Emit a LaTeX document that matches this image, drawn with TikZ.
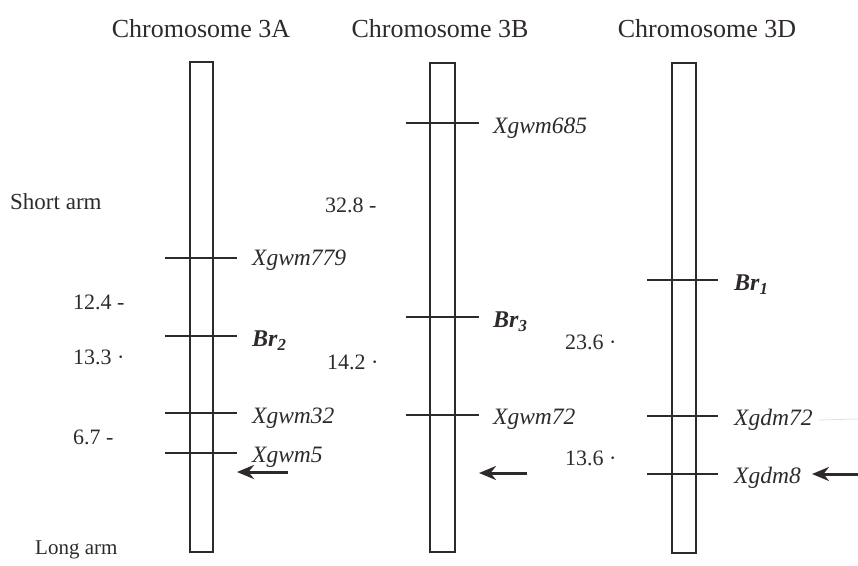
\documentclass[tikz,border=0pt]{standalone}
\usepackage{fontspec}
\setmainfont{Liberation Serif}
\usetikzlibrary{arrows.meta}
\definecolor{ink}{HTML}{2E2A2B}
\tikzset{
  chrom/.style={draw=ink, line width=1.4pt, rectangle, inner sep=0pt},
  tickline/.style={draw=ink, line width=1.4pt},
  title/.style={text=ink, font=\fontsize{26}{28}\selectfont, inner sep=0pt},
  side/.style={text=ink, font=\fontsize{23}{26}\selectfont, inner sep=0pt, anchor=west},
  num/.style={text=ink, font=\fontsize{22}{24}\selectfont, inner sep=0pt, anchor=west},
  markerlbl/.style={text=ink, font=\fontsize{23.5}{26}\selectfont\itshape, inner sep=0pt, anchor=west},
  gene/.style={text=ink, font=\fontsize{24}{26}\selectfont\bfseries\itshape, inner sep=0pt, anchor=west},
  pointer/.style={draw=ink, line width=3pt, -{Stealth[length=17pt,width=14pt]}},
}
\begin{document}
\begin{tikzpicture}[x=1pt,y=-1pt]
\useasboundingbox (0,0) rectangle (858,565);
% titles
\node[title] (tA) at (201,29) {Chromosome 3A};
\node[title] (tB) at (440,29) {Chromosome 3B};
\node[title] (tD) at (707,29) {Chromosome 3D};
% arm labels
\node[side] (short) at (10,202) {Short arm};
\node[side, font=\fontsize{21}{24}\selectfont] (long) at (35,550) {Long arm};
% chromosomes
\node[chrom, minimum width=23pt, minimum height=490pt] (cA) at (201.5,307) {};
\node[chrom, minimum width=25pt, minimum height=489pt] (cB) at (442.5,307.5) {};
\node[chrom, minimum width=24pt, minimum height=490pt] (cD) at (684,308) {};
% 3A ticks
\draw[tickline] (165,258) -- (237,258);
\draw[tickline] (165,336) -- (237,336);
\draw[tickline] (165,413) -- (237,413);
\draw[tickline] (165,453) -- (237,453);
% 3B ticks
\draw[tickline] (406,123) -- (479,123);
\draw[tickline] (406,317) -- (479,317);
\draw[tickline] (406,415) -- (479,415);
% 3D ticks
\draw[tickline] (647,280) -- (718,280);
\draw[tickline] (647,416) -- (718,416);
\draw[tickline] (647,474) -- (718,474);
% 3A labels
\node[markerlbl] (m779) at (252,260) {Xgwm779};
\node[gene] (br2) at (252,341) {Br\textsubscript{2}};
\node[markerlbl] (m32) at (252,418) {Xgwm32};
\node[markerlbl] (m5) at (252,457) {Xgwm5};
\node[num] (n124) at (73,302) {12.4 -};
\node[num] (n133) at (73,357) {13.3 ·};
\node[num] (n67) at (73,437) {6.7 -};
% 3B labels
\node[markerlbl] (m685) at (493,128) {Xgwm685};
\node[gene] (br3) at (493,322) {Br\textsubscript{3}};
\node[markerlbl] (m72) at (493,419) {Xgwm72};
\node[num] (n328) at (325,205) {32.8 -};
\node[num] (n142) at (327,362) {14.2 ·};
% 3D labels
\node[gene] (br1) at (734,285) {Br\textsubscript{1}};
\node[markerlbl] (d72) at (734,420) {Xgdm72};
\node[markerlbl] (d8) at (734,478) {Xgdm8};
\node[num] (n236) at (565,342) {23.6 ·};
\node[num] (n136) at (565,458) {13.6 ·};
% arrows
\coordinate (aAs) at (288,472); \coordinate (aAe) at (237,472);
\coordinate (aBs) at (527,473); \coordinate (aBe) at (479,473);
\coordinate (aDs) at (858,474); \coordinate (aDe) at (812,474);
\draw[pointer] (aAs) -- (aAe);
\draw[pointer] (aBs) -- (aBe);
\draw[pointer] (aDs) -- (aDe);
% faint trace beside Xgdm72
\draw[black!12, line width=0.8pt] (d72.east) ++(6pt,0) -- (858,419);
\end{tikzpicture}
\end{document}
